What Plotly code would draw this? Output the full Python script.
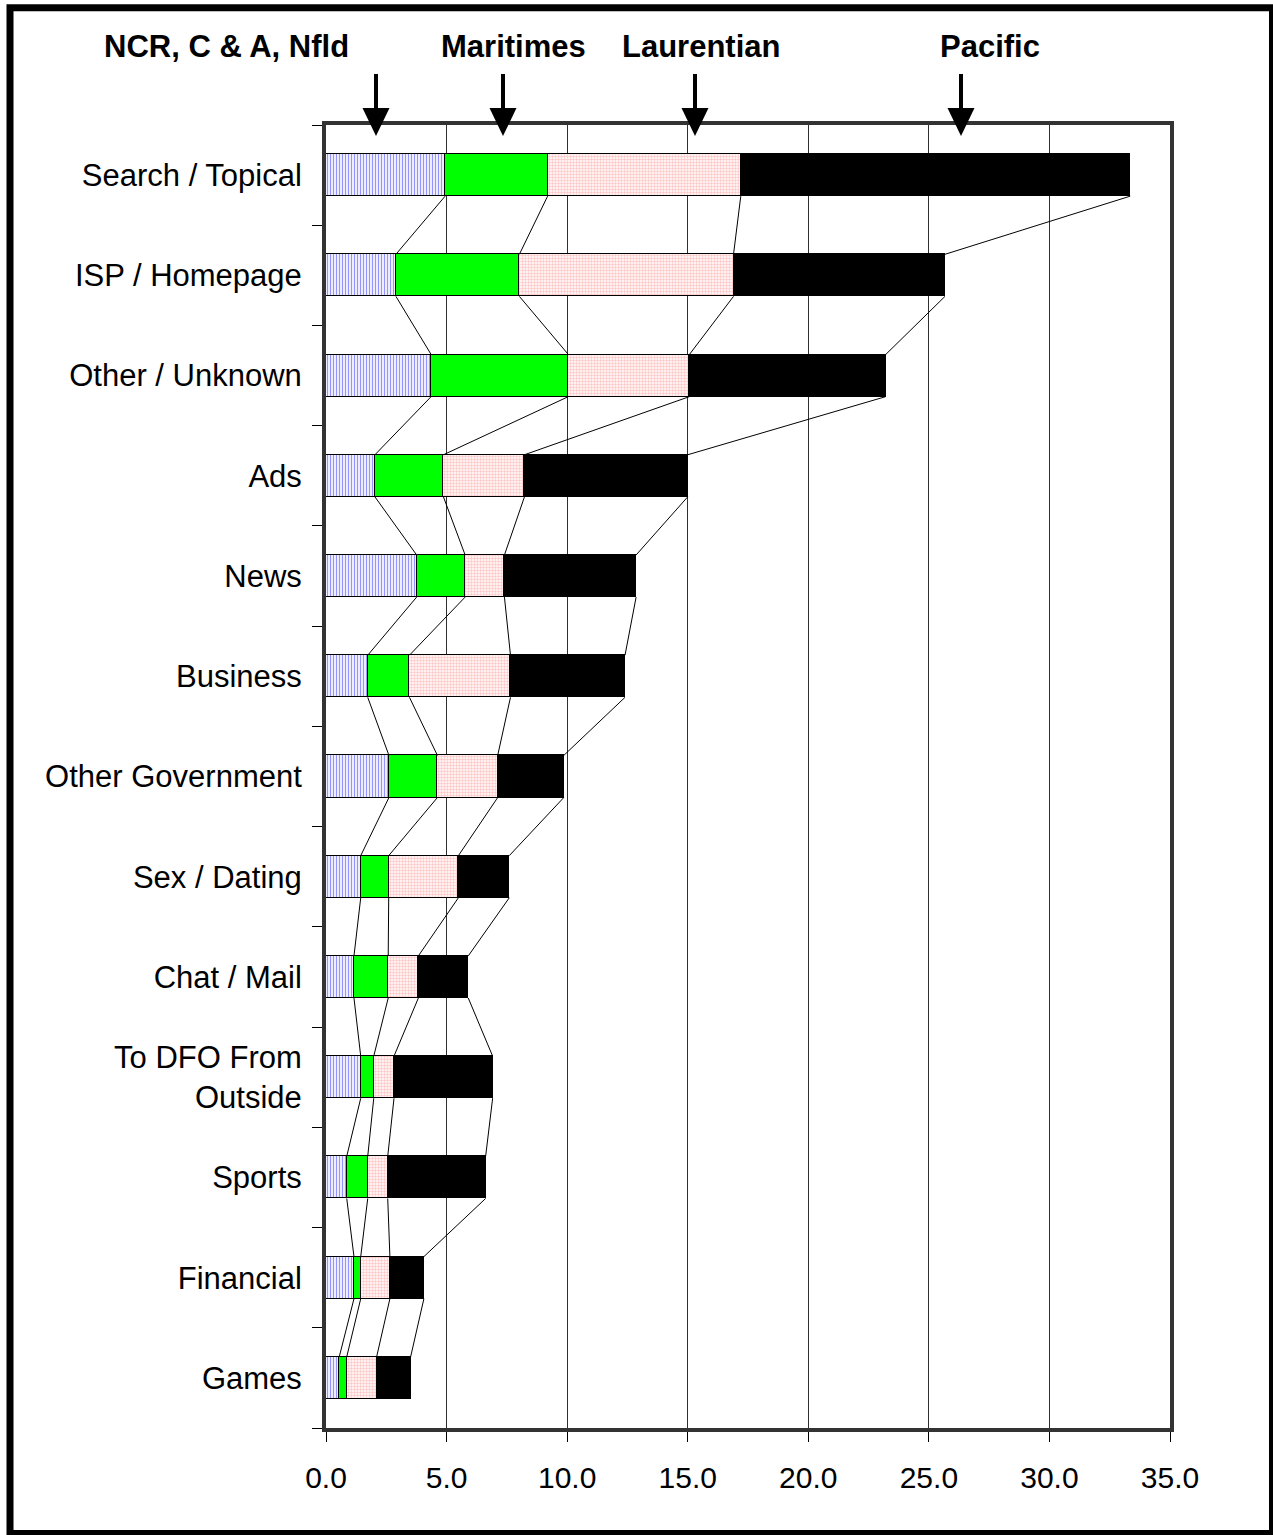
import plotly.graph_objects as go

# ---- data ----
categories = ["Search / Topical", "ISP / Homepage", "Other / Unknown", "Ads", "News",
              "Business", "Other Government", "Sex / Dating", "Chat / Mail",
              "To DFO From<br>Outside", "Sports", "Financial", "Games"]
ncr = [4.94, 2.90, 4.36, 2.03, 3.76, 1.73, 2.61, 1.44, 1.16, 1.44, 0.86, 1.16, 0.55]
maritimes = [4.25, 5.12, 5.69, 2.84, 2.01, 1.73, 2.01, 1.16, 1.42, 0.54, 0.87, 0.28, 0.31]
laurentian = [8.01, 8.88, 5.02, 3.36, 1.63, 4.19, 2.50, 2.89, 1.25, 0.84, 0.83, 1.21, 1.24]
pacific = [16.15, 8.77, 8.14, 6.77, 5.46, 4.75, 2.74, 2.11, 2.07, 4.09, 4.06, 1.41, 1.41]
region_labels = ["NCR, C & A, Nfld", "Maritimes", "Laurentian", "Pacific"]
x_ticks = [0, 5, 10, 15, 20, 25, 30, 35]

W, H = 1273, 1535
L, R, T, B = 326, 103, 125, 107
PW, PH = W - L - R, H - T - B
FONT = "Liberation Sans, Arial, sans-serif"
BAR_W = 0.42


def px(x):
    return (x - L) / PW


def py(y):
    return (H - B - y) / PH


ypos = list(range(len(categories)))
fig = go.Figure()

series = [
    (ncr, dict(color="white", pattern=dict(shape="|", fgcolor="#2a2aff", bgcolor="white", size=3, solidity=0.45))),
    (maritimes, dict(color="#00ff00")),
    (laurentian, dict(color="white", pattern=dict(shape=".", fgcolor="#ff8c8c", bgcolor="white", size=3, solidity=0.5))),
    (pacific, dict(color="#000000")),
]
for vals, mk in series:
    mk = dict(mk)
    mk["line"] = dict(color="black", width=1.5)
    fig.add_trace(go.Bar(x=vals, y=ypos, orientation="h", width=BAR_W, marker=mk,
                         showlegend=False, hoverinfo="x"))

# series lines connecting segment boundaries between consecutive bars
cums = []
run = [0.0] * len(categories)
for vals, _ in series:
    run = [a + b for a, b in zip(run, vals)]
    cums.append(run)
for cum in cums:
    xs, ys = [], []
    for i in range(len(categories) - 1):
        xs += [cum[i], cum[i + 1], None]
        ys += [i + BAR_W / 2, i + 1 - BAR_W / 2, None]
    fig.add_trace(go.Scatter(x=xs, y=ys, mode="lines", line=dict(color="black", width=1),
                             showlegend=False, hoverinfo="skip"))

shapes = []
# outer page frame
shapes.append(dict(type="rect", xref="paper", yref="paper",
                   x0=px(10), x1=px(1272.5), y0=py(7.7), y1=py(1533.5),
                   line=dict(color="black", width=7), layer="above"))
annotations = []
arrow_x = [376, 503, 695, 961]
label_x = [226.5, 513, 701, 990]
for ax_, lx, txt in zip(arrow_x, label_x, region_labels):
    shapes.append(dict(type="line", xref="paper", yref="paper",
                       x0=px(ax_), x1=px(ax_), y0=py(74), y1=py(112),
                       line=dict(color="black", width=4), layer="above"))
    shapes.append(dict(type="path", xref="paper", yref="paper",
                       path=f"M {px(ax_ - 13.5)} {py(108)} L {px(ax_ + 13.5)} {py(108)} L {px(ax_)} {py(136)} Z",
                       fillcolor="black", line=dict(color="black", width=0), layer="above"))
    annotations.append(dict(text=f"<b>{txt}</b>", xref="paper", yref="paper",
                            x=px(lx), y=py(47), xanchor="center", yanchor="middle",
                            showarrow=False, font=dict(family=FONT, size=31, color="black")))

fig.update_layout(
    width=W, height=H,
    margin=dict(l=L, r=R, t=T, b=B, pad=0),
    barmode="stack",
    bargap=0,
    plot_bgcolor="white", paper_bgcolor="white",
    font=dict(family=FONT, size=31, color="black"),
    shapes=shapes, annotations=annotations,
    showlegend=False,
)
fig.update_xaxes(range=[0, 35], tickmode="array", tickvals=x_ticks,
                 ticktext=[f"{v:.1f}" for v in x_ticks],
                 ticks="outside", ticklen=10, tickwidth=1, tickcolor="black",
                 ticklabelstandoff=10,
                 showgrid=True, gridcolor="#303030", gridwidth=1, zeroline=False,
                 showline=True, linewidth=4, linecolor="#333333", mirror=True,
                 tickfont=dict(family=FONT, size=30, color="black"))
fig.update_yaxes(range=[len(categories) - 0.5, -0.5], tickmode="array", tickvals=ypos,
                 ticktext=categories, ticks="", ticklabelstandoff=14,
                 minor=dict(tickmode="array", tickvals=[i - 0.5 for i in range(len(categories) + 1)],
                            ticks="outside", ticklen=10, tickwidth=1, tickcolor="black", showgrid=False),
                 showgrid=False, zeroline=False,
                 showline=True, linewidth=4, linecolor="#333333", mirror=True,
                 tickfont=dict(family=FONT, size=31, color="black"))

fig.write_html("out.html")
